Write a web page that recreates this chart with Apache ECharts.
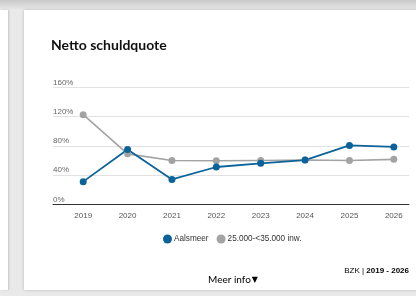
<!DOCTYPE html>
<html>
<head>
<meta charset="utf-8">
<script src="https://cdn.jsdelivr.net/npm/echarts@6/dist/echarts.min.js"></script>
<style>
  html, body { margin: 0; padding: 0; width: 416px; height: 296px; overflow: hidden; background: #e9e9e9; }
  .topbar { position: absolute; left: 0; top: 0; width: 416px; height: 10px; background: linear-gradient(#c9c9c9, #e9e9e9); }
  .leftcard { position: absolute; left: 0; top: 10px; width: 8px; height: 280px; background: #fff; box-shadow: 1px 0 2px rgba(0,0,0,0.15); }
  .card { position: absolute; left: 24px; top: 10px; width: 400px; height: 280px; background: #fff; box-shadow: 0 0 3px rgba(0,0,0,0.2); }
  #chart { position: absolute; left: 0; top: 0; width: 416px; height: 296px; }
</style>
</head>
<body>
<div class="topbar"></div>
<div class="leftcard"></div>
<div class="card"></div>
<div id="chart"></div>
<script>
// jaren en waarden (netto schuldquote in %)
const jaren = ['2019', '2020', '2021', '2022', '2023', '2024', '2025', '2026'];
const aalsmeer = [31, 75, 34, 51, 56, 60.5, 80.5, 78.5];
const klasse = [122.5, 69, 60, 59.5, 60, 60.5, 60, 61.5];
const yTicks = [0, 40, 80, 120, 160];

const blauw = '#0b6399';
const grijs = '#a3a3a3';
const sans = '"Liberation Sans", sans-serif';

const chart = echarts.init(document.getElementById('chart'));

const option = {
  animation: false,
  title: {
    text: 'Netto schuldquote',
    left: 51,
    top: 38,
    padding: 0,
    textStyle: { fontFamily: 'Lato', fontWeight: 'bold', fontSize: 14, color: '#111' }
  },
  legend: {
    data: ['Aalsmeer', '25.000-<35.000 inw.'],
    top: 234.5,
    left: 163,
    padding: 0,
    icon: 'circle',
    itemWidth: 9,
    itemHeight: 9,
    itemGap: 8,
    textStyle: { fontFamily: sans, fontSize: 8.2, color: '#333', padding: [0, 0, 0, -3] }
  },
  // grid 0: rasterlijnen en as, grid 1: de data
  grid: [
    { left: 53, right: 7, top: 87.3, bottom: 91.7 },
    { left: 61, width: 355, top: 87.3, bottom: 91.7 }
  ],
  xAxis: [
    {
      type: 'category', gridIndex: 0, data: jaren,
      axisLine: { lineStyle: { color: '#333', width: 1 } },
      axisTick: { show: false }, axisLabel: { show: false }
    },
    {
      type: 'category', gridIndex: 1, data: jaren,
      axisLine: { show: false }, axisTick: { show: false },
      axisLabel: { fontFamily: sans, fontSize: 8, color: '#555', margin: 7 }
    }
  ],
  yAxis: [
    {
      type: 'value', gridIndex: 0, min: 0, max: 160, interval: 40,
      axisLabel: {
        inside: true, align: 'left', verticalAlign: 'bottom', margin: 0,
        padding: [0, 0, 1, 0],
        fontFamily: sans, fontSize: 8, color: '#666',
        formatter: v => yTicks.includes(v) ? v + '%' : ''
      },
      splitLine: { lineStyle: { color: '#e2e2e2', width: 1 } },
      axisLine: { show: false }, axisTick: { show: false }
    },
    {
      type: 'value', gridIndex: 1, min: 0, max: 160, interval: 40,
      show: false, splitLine: { show: false }
    }
  ],
  series: [
    {
      name: '25.000-<35.000 inw.', type: 'line', xAxisIndex: 1, yAxisIndex: 1,
      data: klasse, symbol: 'circle', symbolSize: 7,
      itemStyle: { color: grijs }, lineStyle: { color: grijs, width: 1.6 }
    },
    {
      name: 'Aalsmeer', type: 'line', xAxisIndex: 1, yAxisIndex: 1,
      data: aalsmeer, symbol: 'circle', symbolSize: 7,
      itemStyle: { color: blauw }, lineStyle: { color: blauw, width: 1.8 }
    }
  ],
  graphic: [
    {
      type: 'text', right: 7, top: 267,
      style: {
        text: '{r|BZK | }{b|2019 - 2026}',
        rich: {
          r: { fontFamily: sans, fontSize: 8, color: '#222' },
          b: { fontFamily: sans, fontSize: 8, fontWeight: 'bold', color: '#222' }
        }
      }
    },
    {
      type: 'text', left: 208, top: 275,
      style: {
        text: '{t|Meer info}{a|\u25BC}',
        rich: {
          t: { fontFamily: 'Lato', fontSize: 10, color: '#222' },
          a: { fontFamily: 'DejaVu Sans', fontSize: 8, color: '#222', padding: [0, 0, 0, 1] }
        }
      }
    }
  ]
};

chart.setOption(option);
</script>
</body>
</html>
